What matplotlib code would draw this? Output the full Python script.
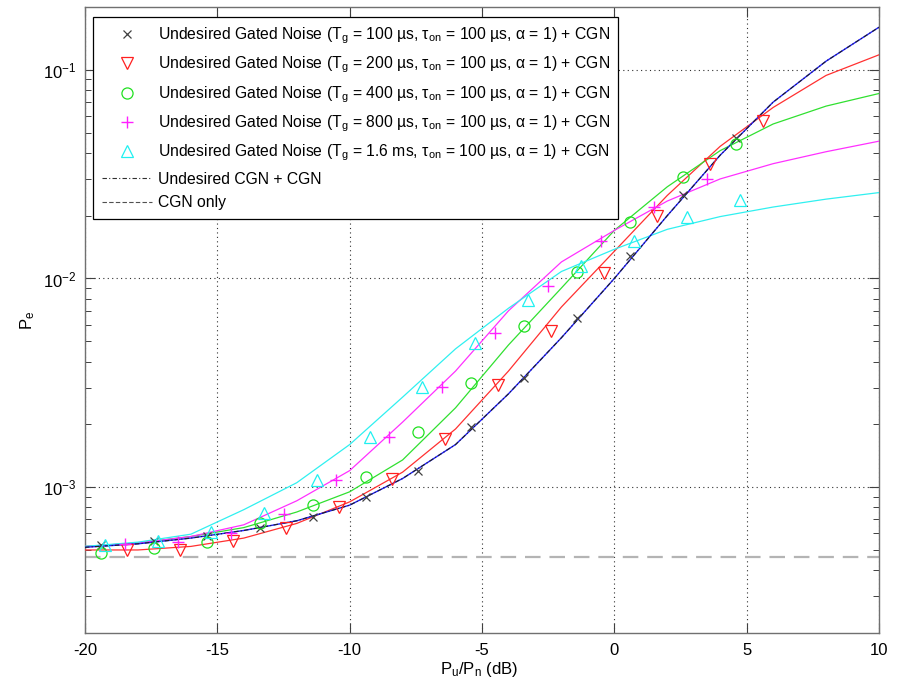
import matplotlib
matplotlib.use('Agg')
import matplotlib.pyplot as plt
from matplotlib import font_manager
from matplotlib.lines import Line2D
from matplotlib.ticker import LogLocator, NullFormatter, FixedLocator

# ---------------- data ----------------
x_line = [-20, -18, -16, -14, -12, -10, -8, -6, -4, -2, 0, 2, 4, 6, 8, 10]
pe_ucgn_line = [5.15e-4, 5.35e-4, 5.7e-4, 6.2e-4, 6.9e-4, 8.2e-4, 1.1e-3, 1.6e-3,
                2.8e-3, 5.2e-3, 1.0e-2, 2.0e-2, 3.9e-2, 7.0e-2, 0.11, 0.16]
pe_200_line = [5.0e-4, 5.0e-4, 5.2e-4, 5.7e-4, 6.7e-4, 8.5e-4, 1.18e-3, 1.9e-3,
               3.6e-3, 7.3e-3, 1.35e-2, 2.5e-2, 4.3e-2, 6.6e-2, 0.094, 0.118]
pe_400_line = [5.2e-4, 5.4e-4, 5.8e-4, 6.4e-4, 7.6e-4, 9.5e-4, 1.35e-3, 2.4e-3,
               4.8e-3, 9.0e-3, 1.7e-2, 2.75e-2, 4.1e-2, 5.5e-2, 6.7e-2, 7.7e-2]
pe_800_line = [5.2e-4, 5.4e-4, 5.8e-4, 6.6e-4, 8.6e-4, 1.2e-3, 2.05e-3, 3.6e-3,
               7.0e-3, 1.2e-2, 1.7e-2, 2.35e-2, 3.0e-2, 3.55e-2, 4.05e-2, 4.55e-2]
pe_1600_line = [5.2e-4, 5.45e-4, 5.95e-4, 7.8e-4, 1.05e-3, 1.6e-3, 2.7e-3, 4.6e-3,
                7.2e-3, 1.08e-2, 1.38e-2, 1.72e-2, 1.98e-2, 2.2e-2, 2.4e-2, 2.58e-2]

x_cgn_only = [-20, 10]
pe_cgn_only = [4.65e-4, 4.65e-4]

x_m100 = [-19.4, -17.4, -15.4, -13.4, -11.4, -9.4, -7.4, -5.4, -3.4, -1.4, 0.6, 2.6, 4.6]
pe_m100 = [5.3e-4, 5.5e-4, 5.85e-4, 6.4e-4, 7.2e-4, 9.0e-4, 1.2e-3, 1.95e-3,
           3.35e-3, 6.5e-3, 1.28e-2, 2.5e-2, 4.7e-2]
x_m200 = [-18.4, -16.4, -14.4, -12.4, -10.4, -8.4, -6.4, -4.4, -2.4, -0.4, 1.6, 3.6, 5.6]
pe_m200 = [4.98e-4, 5.0e-4, 5.5e-4, 6.4e-4, 8.0e-4, 1.10e-3, 1.70e-3, 3.09e-3,
           5.62e-3, 1.06e-2, 1.99e-2, 3.53e-2, 5.69e-2]
x_m400 = [-19.4, -17.4, -15.4, -13.4, -11.4, -9.4, -7.4, -5.4, -3.4, -1.4, 0.6, 2.6, 4.6]
pe_m400 = [4.82e-4, 5.09e-4, 5.44e-4, 6.7e-4, 8.2e-4, 1.12e-3, 1.84e-3, 3.16e-3,
           5.94e-3, 1.07e-2, 1.86e-2, 3.06e-2, 4.41e-2]
x_m800 = [-18.5, -16.5, -14.5, -12.5, -10.5, -8.5, -6.5, -4.5, -2.5, -0.5, 1.5, 3.5]
pe_m800 = [5.32e-4, 5.44e-4, 6.0e-4, 7.4e-4, 1.08e-3, 1.74e-3, 3.03e-3, 5.45e-3,
           9.2e-3, 1.51e-2, 2.19e-2, 2.99e-2]
x_m1600 = [-19.25, -17.25, -15.25, -13.25, -11.25, -9.25, -7.25, -5.25, -3.25,
           -1.25, 0.75, 2.75, 4.75]
pe_m1600 = [5.26e-4, 5.5e-4, 6.08e-4, 7.5e-4, 1.08e-3, 1.74e-3, 3.03e-3, 4.92e-3,
            7.9e-3, 1.15e-2, 1.51e-2, 1.96e-2, 2.37e-2]

x_ticks = [-20, -15, -10, -5, 0, 5, 10]

labels = [
    'Undesired Gated Noise (T$_{g}$ = 100 µs, τ$_{on}$ = 100 µs, α = 1) + CGN',
    'Undesired Gated Noise (T$_{g}$ = 200 µs, τ$_{on}$ = 100 µs, α = 1) + CGN',
    'Undesired Gated Noise (T$_{g}$ = 400 µs, τ$_{on}$ = 100 µs, α = 1) + CGN',
    'Undesired Gated Noise (T$_{g}$ = 800 µs, τ$_{on}$ = 100 µs, α = 1) + CGN',
    'Undesired Gated Noise (T$_{g}$ = 1.6 ms, τ$_{on}$ = 100 µs, α = 1) + CGN',
    'Undesired CGN + CGN',
    'CGN only',
]

# ---------------- fonts ----------------
names = {f.name for f in font_manager.fontManager.ttflist}
if 'Liberation Sans Narrow' in names:
    FONT = 'Liberation Sans Narrow'
    FS_LEG, FS_TICK = 13.5, 13
else:
    FONT = 'Liberation Sans'
    FS_LEG, FS_TICK = 11.3, 12

plt.rcParams['font.family'] = [FONT, 'DejaVu Sans']
plt.rcParams['mathtext.fontset'] = 'custom'
plt.rcParams['mathtext.rm'] = FONT
plt.rcParams['mathtext.it'] = FONT
plt.rcParams['mathtext.bf'] = FONT
plt.rcParams['axes.unicode_minus'] = False

# ---------------- figure ----------------
W, H = 898, 688
fig = plt.figure(figsize=(W / 100, H / 100), dpi=100)
L, R, T, B = 85, 879, 7, 633
ax = fig.add_axes([L / W, (H - B) / H, (R - L) / W, (B - T) / H])
ax.set_yscale('log')
ax.set_xlim(-20, 10)
ax.set_ylim(2e-4, 0.2)

# CGN only
ax.plot(x_cgn_only, pe_cgn_only, color='#b4b4b4', lw=1.6, dashes=(7, 4), zorder=2)

# theory lines
ax.plot(x_line, pe_200_line, color='#ff3030', lw=0.9, zorder=3)
ax.plot(x_line, pe_400_line, color='#30e030', lw=0.9, zorder=3)
ax.plot(x_line, pe_800_line, color='#ff30ff', lw=0.9, zorder=3)
ax.plot(x_line, pe_1600_line, color='#30f0f0', lw=0.9, zorder=3)
ax.plot(x_line, pe_ucgn_line, color='#2020ff', lw=1.0, zorder=3)
ax.plot(x_line, pe_ucgn_line, color='#202020', lw=0.8, dashes=(4, 2, 1, 2), zorder=4)

# markers
mk = dict(linestyle='none', markerfacecolor='none', zorder=5)
ax.plot(x_m100, pe_m100, marker='x', color='#404040', ms=6, mew=0.9, **mk)
ax.plot(x_m200, pe_m200, marker='v', color='#ff2020', ms=8.5, mew=0.9, **mk)
ax.plot(x_m400, pe_m400, marker='o', color='#20e020', ms=8, mew=0.9, **mk)
ax.plot(x_m800, pe_m800, marker='+', color='#ff20ff', ms=9, mew=1.0, **mk)
ax.plot(x_m1600, pe_m1600, marker='^', color='#20f0f0', ms=8.5, mew=0.9, **mk)

# axes styling
ax.xaxis.set_major_locator(FixedLocator(x_ticks))
ax.set_xticklabels([str(v) for v in x_ticks])
ax.yaxis.set_major_locator(LogLocator(base=10, numticks=10))
ax.yaxis.set_minor_locator(LogLocator(base=10, subs=range(2, 10), numticks=20))
ax.yaxis.set_minor_formatter(NullFormatter())
ax.tick_params(which='both', direction='in', top=True, right=True,
               labelsize=FS_TICK, colors='#404040', labelcolor='black')
ax.tick_params(which='major', length=7, width=0.8)
ax.tick_params(which='minor', length=4, width=0.7)
ax.tick_params(axis='x', pad=7)
ax.tick_params(axis='y', pad=6)
ax.grid(True, which='major', linestyle=(0, (1, 3)), color='#303030', lw=0.8)
for s in ax.spines.values():
    s.set_color('#707070')
    s.set_linewidth(1.0)

ax.set_xlabel('P$_{u}$/P$_{n}$ (dB)', fontsize=FS_TICK)
ax.set_ylabel('P$_{e}$', fontsize=FS_TICK)
ax.xaxis.set_label_coords((479 - L) / (R - L), (B - 660) / (B - T))
ax.yaxis.set_label_coords((37 - L) / (R - L), (B - 320) / (B - T))

# legend
fs_px = FS_LEG * 100 / 72
handles = [
    Line2D([], [], linestyle='none', marker='x', color='#404040', ms=6, mew=0.9),
    Line2D([], [], linestyle='none', marker='v', color='#ff2020', ms=8.5, mew=0.9, markerfacecolor='none'),
    Line2D([], [], linestyle='none', marker='o', color='#20e020', ms=8, mew=0.9, markerfacecolor='none'),
    Line2D([], [], linestyle='none', marker='+', color='#ff20ff', ms=9, mew=1.0),
    Line2D([], [], linestyle='none', marker='^', color='#20f0f0', ms=8.5, mew=0.9, markerfacecolor='none'),
    Line2D([], [], color='#303030', lw=0.8, dashes=(4, 2, 1, 2)),
    Line2D([], [], color='#505050', lw=0.8, dashes=(4, 2)),
]
leg = ax.legend(handles, labels, loc='upper left',
                bbox_to_anchor=((93 - L) / (R - L), (B - 17) / (B - T)),
                borderaxespad=0, fontsize=FS_LEG, numpoints=1,
                fancybox=False, edgecolor='black', framealpha=1,
                handlelength=50 / fs_px, handletextpad=6 / fs_px,
                borderpad=0.55, labelspacing=0.55)
leg.get_frame().set_linewidth(0.9)
leg.set_zorder(10)

fig.savefig('out.png', dpi=100)
